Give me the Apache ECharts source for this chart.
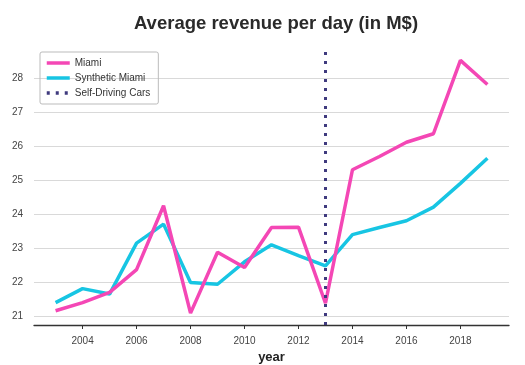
<!DOCTYPE html>
<html><head><meta charset="utf-8">
<script src="https://cdn.jsdelivr.net/npm/echarts@6/dist/echarts.min.js"></script>
<style>html,body{margin:0;padding:0;background:#fff}#c{width:525px;height:365px}</style>
</head><body><div id="c"></div>
<script>
const years = [2003,2004,2005,2006,2007,2008,2009,2010,2011,2012,2013,2014,2015,2016,2017,2018,2019];
const miami = [21.15,21.39,21.69,22.36,24.24,21.08,22.87,22.42,23.60,23.61,21.37,25.30,25.69,26.11,26.36,28.52,27.81];
const synthetic = [21.39,21.80,21.64,23.14,23.70,21.98,21.93,22.59,23.09,22.77,22.47,23.39,23.60,23.80,24.20,24.90,25.64];
const eventYear = 2013;
const xTicks = [2004,2006,2008,2010,2012,2014,2016,2018];
const yTicks = [21,22,23,24,25,26,27,28];
const xMin = 2002.2, xMax = 2019.8, yMin = 20.73, yMax = 28.87;

const font = '"Liberation Sans", Arial, sans-serif';
const chart = echarts.init(document.getElementById('c'), null, {renderer:'canvas'});
chart.setOption({
  animation:false,
  backgroundColor:'#fff',
  title:{text:'Average revenue per day (in M$)', left:271, textAlign:'center', top:9,
    textStyle:{fontFamily:font, fontSize:18.5, fontWeight:'bold', color:'#2a2a2a'}},
  grid:{left:34, right:16, top:48.5, bottom:40, containLabel:false, outerBoundsMode:'none'},
  legend:{orient:'vertical', left:40, top:52, itemWidth:23, itemHeight:4, itemGap:5,
    padding:[6,8,6,5], borderColor:'#bbb', borderWidth:1, borderRadius:2,
    itemStyle:{color:'rgba(0,0,0,0)', borderWidth:0, opacity:0},
    lineStyle:{width:3.5},
    textStyle:{fontFamily:font, fontSize:10, color:'#333'},
    data:['Miami','Synthetic Miami','Self-Driving Cars']},
  xAxis:{type:'value', min:xMin, max:xMax, name:'year', nameLocation:'middle', nameGap:22,
    nameTextStyle:{fontFamily:font, fontSize:13, fontWeight:'bold', color:'#222'},
    axisLine:{lineStyle:{color:'#333', width:1.3}},
    axisTick:{show:true, length:4, customValues:xTicks, lineStyle:{color:'#333'}},
    axisLabel:{customValues:xTicks, formatter:v=>String(v), fontFamily:font, fontSize:10, color:'#444', margin:11},
    splitLine:{show:false}},
  yAxis:{type:'value', min:yMin, max:yMax,
    axisLine:{show:false},
    axisTick:{show:false, customValues:yTicks},
    axisLabel:{customValues:yTicks, formatter:v=>String(v), fontFamily:font, fontSize:10, color:'#444', margin:11},
    splitLine:{show:true, lineStyle:{color:'#d9d9d9', width:1.2}}},
  series:[
    {name:'Miami', type:'line', data:years.map((y,i)=>[y,miami[i]]), symbol:'none',
      lineStyle:{color:'#f447b5', width:3.5}, itemStyle:{color:'#f447b5'}, z:3},
    {name:'Synthetic Miami', type:'line', data:years.map((y,i)=>[y,synthetic[i]]), symbol:'none',
      lineStyle:{color:'#17c5e3', width:3.5}, itemStyle:{color:'#17c5e3'}, z:2},
    {name:'Self-Driving Cars', type:'line', data:[[eventYear,yMin],[eventYear,yMax]], symbol:'none',
      lineStyle:{color:'#3f3a7e', width:3, type:[3,6], cap:'butt'}, itemStyle:{color:'#3f3a7e'}, z:4}
  ]
});
</script></body></html>
